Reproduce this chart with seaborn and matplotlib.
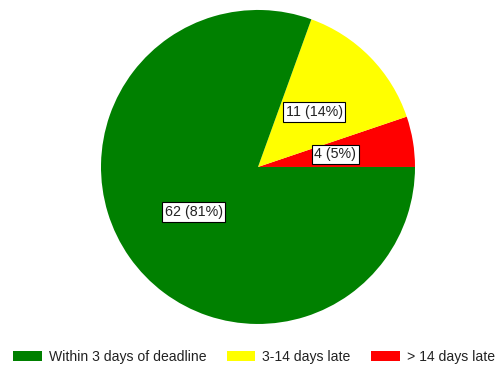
import matplotlib
matplotlib.use("Agg")
import matplotlib.pyplot as plt
import seaborn as sns
from matplotlib.patches import Patch

categories = ["Within 3 days of deadline", "3-14 days late", "> 14 days late"]
values = [62, 11, 4]
colors = ["#008000", "#FFFF00", "#FF0000"]

sns.set_style("white")
plt.rcParams['font.family'] = ['Liberation Sans', 'DejaVu Sans']

fig = plt.figure(figsize=(5.0, 3.69), dpi=100)
ax = fig.add_axes([0.202, 0.122, 0.628, 0.851])

# draw in reverse so red starts at 3 o'clock going counterclockwise
order = [2, 1, 0]
vals = [values[i] for i in order]
cols = [colors[i] for i in order]
total = sum(values)

wedges, texts, autotexts = ax.pie(
    vals, colors=cols, startangle=0, counterclock=True,
    autopct=lambda p: f"{round(p*total/100)} ({p:.0f}%)",
    pctdistance=0.5, wedgeprops=dict(linewidth=0),
    textprops=dict(fontsize=10.3, color="#222222"))
for t in autotexts:
    t.set_bbox(dict(facecolor="white", edgecolor="black", boxstyle="square,pad=0.18", linewidth=0.8))
ax.set_xlim(-1, 1)
ax.set_ylim(-1, 1)
ax.set_aspect("equal")

handles = [Patch(facecolor=c, edgecolor="none") for c in colors]
fig.legend(handles, categories, loc="center", bbox_to_anchor=(0.508, 0.033), ncol=3,
           frameon=False, fontsize=10.1, handlelength=2.0, handleheight=0.72,
           columnspacing=1.5, handletextpad=0.5, borderpad=0, borderaxespad=0,
           labelcolor="#222222")

fig.savefig("out.png", dpi=100)
